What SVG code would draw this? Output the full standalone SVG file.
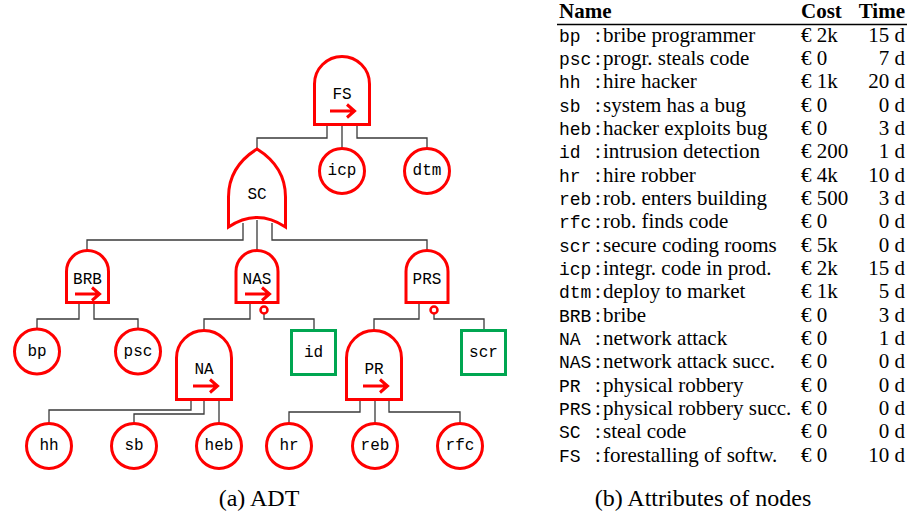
<svg xmlns="http://www.w3.org/2000/svg" xmlns:xlink="http://www.w3.org/1999/xlink" width="911" height="518" viewBox="0 0 911 518">
<style>
.g{fill:#fff;stroke:#f00;stroke-width:3;stroke-linejoin:miter}
.d{fill:#fff;stroke:#00a651;stroke-width:3}
.c{fill:none;stroke:#3a3a3a;stroke-width:1.3}
.l{font-family:"Liberation Mono","DejaVu Sans Mono",monospace;font-size:16px;text-anchor:middle;fill:#000}
.a{fill:none;stroke:#f00;stroke-width:3;stroke-linejoin:miter}
.t{font-family:"Liberation Serif","DejaVu Serif",serif;font-size:21px;fill:#000}
.m{font-family:"Liberation Mono","DejaVu Sans Mono",monospace;font-size:18px}
.h{font-weight:bold}
.r{text-anchor:end}
.cap{font-family:"Liberation Serif","DejaVu Serif",serif;font-size:24px;text-anchor:middle;fill:#000}
</style>
<defs>
<path id="arr" class="a" d="M-13,0 H11 M4,-6.5 L11.5,0 L4,6.5"/>
</defs>
<rect width="911" height="518" fill="#fff"/>

<g id="connectors">
<path class="c" d="M327,126 V138 H257 V149"/>
<path class="c" d="M342,126 V148"/>
<path class="c" d="M357,126 V138 H427 V148"/>
<path class="c" d="M243,223 V240 H87 V250"/>
<path class="c" d="M257,220 V250"/>
<path class="c" d="M272,223 V240 H427 V250"/>
<path class="c" d="M79,304 V319 H37 V329"/>
<path class="c" d="M94,304 V319 H138 V329"/>
<path class="c" d="M250,304 V319 H204 V330"/>
<path class="c" d="M264,313.5 V319 H314 V330"/>
<path class="c" d="M419,304 V319 H374 V330"/>
<path class="c" d="M434,313.5 V319 H484 V330"/>
<path class="c" d="M191,401 V410 H49 V423"/>
<path class="c" d="M204,401 V414 H134 V423"/>
<path class="c" d="M219,401 V423"/>
<path class="c" d="M360,401 V412 H289 V423"/>
<path class="c" d="M375,401 V423"/>
<path class="c" d="M389,401 V412 H460 V423"/>
</g>

<g id="FS">
<path class="g" d="M314.5,124.5 V84 A27.5,27.5 0 0 1 369.5,84 V124.5 Z"/>
<text class="l" x="342" y="99">FS</text>
<use xlink:href="#arr" href="#arr" x="343" y="111"/>
</g>
<g id="icp"><circle class="g" cx="342" cy="171" r="22.5"/><text class="l" x="342" y="175">icp</text></g>
<g id="dtm"><circle class="g" cx="427" cy="171" r="22.5"/><text class="l" x="427" y="175">dtm</text></g>

<g id="SC">
<path class="g" d="M257,149 C241,159 228.5,175 228.5,197 V227 Q257,208 285.5,227 V197 C285.5,175 273,159 257,149 Z"/>
<text class="l" x="257" y="199">SC</text>
</g>

<g id="BRB">
<path class="g" d="M66.5,302.5 V271.5 A21,21 0 0 1 108.5,271.5 V302.5 Z"/>
<text class="l" x="87.5" y="284">BRB</text>
<use xlink:href="#arr" href="#arr" x="88" y="294"/>
</g>
<g id="NAS">
<path class="g" d="M236,302.5 V271.5 A21,21 0 0 1 278,271.5 V302.5 Z"/>
<text class="l" x="257" y="284">NAS</text>
<use xlink:href="#arr" href="#arr" x="258" y="294"/>
<circle cx="264" cy="310" r="3.5" fill="#fff" stroke="#f00" stroke-width="2.5"/>
</g>
<g id="PRS">
<path class="g" d="M406,302.5 V271.5 A21,21 0 0 1 448,271.5 V302.5 Z"/>
<text class="l" x="427" y="284">PRS</text>
<circle cx="434" cy="310" r="3.5" fill="#fff" stroke="#f00" stroke-width="2.5"/>
</g>

<g id="bp"><circle class="g" cx="37" cy="351.5" r="22.5"/><text class="l" x="37" y="356">bp</text></g>
<g id="psc"><circle class="g" cx="138" cy="351.5" r="22.5"/><text class="l" x="138" y="356">psc</text></g>

<g id="NA">
<path class="g" d="M176.5,399.5 V358 A27.5,27.5 0 0 1 231.5,358 V399.5 Z"/>
<text class="l" x="204" y="374">NA</text>
<use xlink:href="#arr" href="#arr" x="206" y="386"/>
</g>
<g id="id"><rect class="d" x="291.5" y="330.5" width="44" height="44"/><text class="l" x="313.5" y="357">id</text></g>
<g id="PR">
<path class="g" d="M346.5,399.5 V358 A27.5,27.5 0 0 1 401.5,358 V399.5 Z"/>
<text class="l" x="374" y="374">PR</text>
<use xlink:href="#arr" href="#arr" x="376" y="386"/>
</g>
<g id="scr"><rect class="d" x="461.5" y="330.5" width="44" height="44"/><text class="l" x="483.5" y="357">scr</text></g>

<g id="hh"><circle class="g" cx="49" cy="446" r="22.5"/><text class="l" x="49" y="450">hh</text></g>
<g id="sb"><circle class="g" cx="134" cy="446" r="22.5"/><text class="l" x="134" y="450">sb</text></g>
<g id="heb"><circle class="g" cx="219" cy="446" r="22.5"/><text class="l" x="219" y="450">heb</text></g>
<g id="hr"><circle class="g" cx="289" cy="446" r="22.5"/><text class="l" x="289" y="450">hr</text></g>
<g id="reb"><circle class="g" cx="375" cy="446" r="22.5"/><text class="l" x="375" y="450">reb</text></g>
<g id="rfc"><circle class="g" cx="460" cy="446" r="22.5"/><text class="l" x="460" y="450">rfc</text></g>

<text class="cap" x="259" y="506">(a) ADT</text>

<g id="table" class="t">
<text x="559" y="17.5" class="h">Name</text>
<text x="801" y="17.5" class="h">Cost</text>
<text x="905" y="17.5" class="h r">Time</text>
<line x1="557" y1="24.5" x2="907" y2="24.5" stroke="#000" stroke-width="1.4"/>

<text y="41.7"><tspan class="m" x="559">bp</tspan><tspan x="595">:</tspan><tspan x="603">bribe programmer</tspan><tspan x="801">€ 2k</tspan></text><text class="r" x="905" y="41.7">15 d</text>
<text y="65"><tspan class="m" x="559">psc</tspan><tspan x="595">:</tspan><tspan x="603">progr. steals code</tspan><tspan x="801">€ 0</tspan></text><text class="r" x="905" y="65">7 d</text>
<text y="88.4"><tspan class="m" x="559">hh</tspan><tspan x="595">:</tspan><tspan x="603">hire hacker</tspan><tspan x="801">€ 1k</tspan></text><text class="r" x="905" y="88.4">20 d</text>
<text y="111.7"><tspan class="m" x="559">sb</tspan><tspan x="595">:</tspan><tspan x="603">system has a bug</tspan><tspan x="801">€ 0</tspan></text><text class="r" x="905" y="111.7">0 d</text>
<text y="135"><tspan class="m" x="559">heb</tspan><tspan x="595">:</tspan><tspan x="603">hacker exploits bug</tspan><tspan x="801">€ 0</tspan></text><text class="r" x="905" y="135">3 d</text>
<text y="158.4"><tspan class="m" x="559">id</tspan><tspan x="595">:</tspan><tspan x="603">intrusion detection</tspan><tspan x="801">€ 200</tspan></text><text class="r" x="905" y="158.4">1 d</text>
<text y="181.7"><tspan class="m" x="559">hr</tspan><tspan x="595">:</tspan><tspan x="603">hire robber</tspan><tspan x="801">€ 4k</tspan></text><text class="r" x="905" y="181.7">10 d</text>
<text y="205"><tspan class="m" x="559">reb</tspan><tspan x="595">:</tspan><tspan x="603">rob. enters building</tspan><tspan x="801">€ 500</tspan></text><text class="r" x="905" y="205">3 d</text>
<text y="228.3"><tspan class="m" x="559">rfc</tspan><tspan x="595">:</tspan><tspan x="603">rob. finds code</tspan><tspan x="801">€ 0</tspan></text><text class="r" x="905" y="228.3">0 d</text>
<text y="251.7"><tspan class="m" x="559">scr</tspan><tspan x="595">:</tspan><tspan x="603">secure coding rooms</tspan><tspan x="801">€ 5k</tspan></text><text class="r" x="905" y="251.7">0 d</text>
<text y="275"><tspan class="m" x="559">icp</tspan><tspan x="595">:</tspan><tspan x="603">integr. code in prod.</tspan><tspan x="801">€ 2k</tspan></text><text class="r" x="905" y="275">15 d</text>
<text y="298.3"><tspan class="m" x="559">dtm</tspan><tspan x="595">:</tspan><tspan x="603">deploy to market</tspan><tspan x="801">€ 1k</tspan></text><text class="r" x="905" y="298.3">5 d</text>
<text y="321.7"><tspan class="m" x="559">BRB</tspan><tspan x="595">:</tspan><tspan x="603">bribe</tspan><tspan x="801">€ 0</tspan></text><text class="r" x="905" y="321.7">3 d</text>
<text y="345"><tspan class="m" x="559">NA</tspan><tspan x="595">:</tspan><tspan x="603">network attack</tspan><tspan x="801">€ 0</tspan></text><text class="r" x="905" y="345">1 d</text>
<text y="368.3"><tspan class="m" x="559">NAS</tspan><tspan x="595">:</tspan><tspan x="603">network attack succ.</tspan><tspan x="801">€ 0</tspan></text><text class="r" x="905" y="368.3">0 d</text>
<text y="391.7"><tspan class="m" x="559">PR</tspan><tspan x="595">:</tspan><tspan x="603">physical robbery</tspan><tspan x="801">€ 0</tspan></text><text class="r" x="905" y="391.7">0 d</text>
<text y="415"><tspan class="m" x="559">PRS</tspan><tspan x="595">:</tspan><tspan x="603">physical robbery succ.</tspan><tspan x="801">€ 0</tspan></text><text class="r" x="905" y="415">0 d</text>
<text y="438.3"><tspan class="m" x="559">SC</tspan><tspan x="595">:</tspan><tspan x="603">steal code</tspan><tspan x="801">€ 0</tspan></text><text class="r" x="905" y="438.3">0 d</text>
<text y="461.7"><tspan class="m" x="559">FS</tspan><tspan x="595">:</tspan><tspan x="603">forestalling of softw.</tspan><tspan x="801">€ 0</tspan></text><text class="r" x="905" y="461.7">10 d</text>
</g>

<text class="cap" x="703" y="506">(b) Attributes of nodes</text>
</svg>
